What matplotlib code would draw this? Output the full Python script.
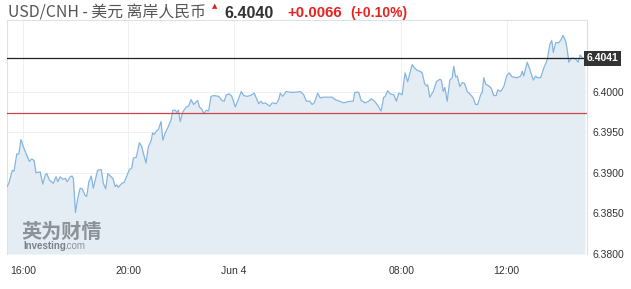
import matplotlib
matplotlib.use("Agg")
import matplotlib.pyplot as plt

# chart time in hours, 0 = 16:00 (the night gap is compressed like in the source)
hours = [-0.60, -0.53, -0.41, -0.34, -0.24, -0.16, -0.08, 0.01, 0.14, 0.24,
         0.33, 0.42, 0.49, 0.65, 0.75, 0.84, 0.90, 1.00, 1.15, 1.25,
         1.32, 1.41, 1.51, 1.60, 1.68, 1.79, 1.86, 1.91, 1.99, 2.08,
         2.17, 2.25, 2.36, 2.42, 2.50, 2.59, 2.67, 2.83, 2.97, 3.05,
         3.14, 3.22, 3.41, 3.50, 3.56, 3.62, 3.75, 3.84, 3.94, 4.04,
         4.13, 4.19, 4.30, 4.42, 4.51, 4.57, 4.67, 4.76, 4.87, 4.92,
         4.98, 5.08, 5.14, 5.24, 5.31, 5.40, 5.52, 5.62, 5.69, 5.78,
         5.84, 5.90, 5.97, 6.07, 6.20, 6.29, 6.38, 6.48, 6.63, 6.70,
         6.79, 6.88, 6.96, 7.05, 7.14, 7.24, 7.43, 7.56, 7.64, 7.72,
         7.84, 7.93, 8.06, 8.15, 8.29, 8.38, 8.51, 8.63, 8.78, 8.86,
         8.95, 9.04, 9.11, 9.20, 9.37, 9.46, 9.62, 9.71, 9.77, 9.86,
         10.00, 10.15, 10.34, 10.53, 10.66, 10.76, 10.89, 10.98, 11.06, 11.19,
         11.29, 11.40, 11.74, 11.86, 12.18, 12.43, 12.54, 12.60, 12.75, 12.84,
         13.00, 13.13, 13.23, 13.35, 13.45, 13.60, 13.70, 13.76, 13.85, 13.95,
         14.08, 14.18, 14.27, 14.40, 14.51, 14.61, 14.78, 14.87, 14.97, 15.07,
         15.16, 15.25, 15.32, 15.37, 15.45, 15.58, 15.70, 15.83, 15.89, 15.96,
         16.02, 16.11, 16.21, 16.30, 16.36, 16.43, 16.49, 16.59, 16.68, 16.77,
         16.87, 17.00, 17.10, 17.19, 17.27, 17.38, 17.44, 17.50, 17.57, 17.69,
         17.78, 17.88, 17.97, 18.03, 18.14, 18.26, 18.37, 18.46, 18.58, 18.77,
         18.90, 18.96, 19.02, 19.15, 19.25, 19.38, 19.47, 19.53, 19.66, 19.78,
         19.91, 20.01, 20.08, 20.14, 20.23, 20.35, 20.44, 20.51, 20.61, 20.67,
         20.73, 20.83, 20.92, 20.99, 21.08, 21.16, 21.25, 21.34]

price = [6.3883, 6.3888, 6.3903, 6.3902, 6.3923, 6.3923, 6.3941, 6.3932, 6.3922, 6.3914,
         6.3917, 6.3915, 6.3900, 6.3901, 6.3886, 6.3897, 6.3899, 6.3891, 6.3887, 6.3895,
         6.3889, 6.3895, 6.3892, 6.3893, 6.3889, 6.3895, 6.3896, 6.3893, 6.3851, 6.3869,
         6.3881, 6.3880, 6.3872, 6.3871, 6.3889, 6.3896, 6.3881, 6.3903, 6.3904, 6.3887,
         6.3880, 6.3899, 6.3893, 6.3883, 6.3885, 6.3882, 6.3887, 6.3888, 6.3896, 6.3904,
         6.3906, 6.3918, 6.3919, 6.3937, 6.3932, 6.3924, 6.3912, 6.3932, 6.3940, 6.3949,
         6.3947, 6.3952, 6.3953, 6.3963, 6.3940, 6.3949, 6.3957, 6.3965, 6.3977, 6.3977,
         6.3974, 6.3977, 6.3963, 6.3975, 6.3981, 6.3982, 6.3990, 6.3984, 6.3989, 6.3981,
         6.3978, 6.3973, 6.3977, 6.3976, 6.3994, 6.3995, 6.3994, 6.3989, 6.3988, 6.3996,
         6.3997, 6.3994, 6.3981, 6.3988, 6.4000, 6.3995, 6.3994, 6.3995, 6.3998, 6.3992,
         6.3985, 6.3988, 6.3985, 6.3986, 6.3982, 6.3986, 6.3985, 6.3990, 6.3998, 6.3994,
         6.4000, 6.3999, 6.3999, 6.4000, 6.3996, 6.3988, 6.3988, 6.3984, 6.3986, 6.3998,
         6.3992, 6.3993, 6.3993, 6.3990, 6.3986, 6.3988, 6.3988, 6.3999, 6.3999, 6.3989,
         6.3986, 6.3988, 6.3991, 6.3988, 6.3984, 6.3976, 6.3993, 6.3994, 6.4001, 6.3997,
         6.3996, 6.3988, 6.3998, 6.3996, 6.4023, 6.4012, 6.4033, 6.4029, 6.4026, 6.4025,
         6.4023, 6.4010, 6.4007, 6.4008, 6.3993, 6.4000, 6.4012, 6.4015, 6.4014, 6.4000,
         6.4005, 6.3988, 6.4014, 6.4017, 6.4031, 6.4018, 6.4019, 6.4006, 6.4011, 6.4010,
         6.4000, 6.3996, 6.3992, 6.3984, 6.3984, 6.3996, 6.3999, 6.4017, 6.4009, 6.4007,
         6.4004, 6.3995, 6.3995, 6.4002, 6.4000, 6.4006, 6.4019, 6.4023, 6.4018, 6.4017,
         6.4019, 6.4025, 6.4019, 6.4036, 6.4027, 6.4014, 6.4019, 6.4017, 6.4017, 6.4029,
         6.4039, 6.4058, 6.4063, 6.4048, 6.4060, 6.4060, 6.4064, 6.4069, 6.4062, 6.4051,
         6.4036, 6.4041, 6.4041, 6.4040, 6.4036, 6.4045, 6.4041, 6.4041]

tick_pos = [0, 4, 8, 14.37, 18.37]
tick_labels = ["16:00", "20:00", "Jun 4", "08:00", "12:00"]
y_ticks = [6.3800, 6.3850, 6.3900, 6.3950, 6.4000]

last_price = 6.4041
prev_close = 6.3974

fig = plt.figure(figsize=(6.31, 2.89), dpi=100)
ax = fig.add_axes([7 / 631, 1 - 254 / 289, 580 / 631, 234 / 289])

ax.set_xlim(-0.61, 21.42)
ax.set_ylim(6.3800, 6.4088)

for t in tick_pos:
    ax.axvline(t, color="#eef1f4", lw=0.7, zorder=0)
for t in y_ticks:
    ax.axhline(t, color="#eef1f4", lw=0.7, zorder=0)

ax.fill_between(hours, price, 6.3800, color="#e4edf4", lw=0, zorder=1)
ax.plot(hours, price, color="#86b5e0", lw=0.9, zorder=3)

ax.axhline(last_price, color="#222222", lw=0.9, zorder=4)
ax.axhline(prev_close, color="#c8464a", lw=0.9, zorder=4)

ax.set_xticks(tick_pos)
ax.set_xticklabels(tick_labels)
ax.set_yticks(y_ticks)
ax.set_yticklabels(["%.4f" % v for v in y_ticks])
ax.yaxis.tick_right()
ax.tick_params(axis="both", length=0, labelsize=7.5, labelcolor="#333333",
               labelfontfamily="Liberation Sans")
ax.tick_params(axis="x", pad=9)
ax.tick_params(axis="y", pad=4)

for side in ["left", "top", "right"]:
    ax.spines[side].set_color("#dde2e8")
    ax.spines[side].set_linewidth(0.8)
ax.spines["bottom"].set_visible(False)

ax.text(1.0, last_price, "6.4041", transform=ax.get_yaxis_transform(),
        ha="left", va="center", color="white", fontsize=7.5, fontweight="bold",
        family="Liberation Sans", zorder=6,
        bbox=dict(boxstyle="square,pad=0.25", fc="#333333", ec="none"))

# watermark
fig.text(21 / 631, 1 - 231 / 289, "英为财情", fontsize=14.5, fontweight="bold",
         color="#7d8288", alpha=0.85, family="Noto Sans CJK SC",
         ha="left", va="center", zorder=5)
fig.text(23 / 631, 1 - 246 / 289, "Investing", fontsize=7, fontweight="bold",
         color="#7d8288", family="Liberation Sans", ha="left", va="center")
fig.text(64 / 631, 1 - 246 / 289, ".com", fontsize=7, color="#8d9298",
         family="Liberation Sans", ha="left", va="center")

# header
fig.text(8 / 631, 1 - 13 / 289, "USD/CNH - 美元 离岸人民币", fontsize=11.4,
         color="#555555", family=["Noto Sans CJK SC", "DejaVu Sans"],
         ha="left", va="center")
fig.text(215 / 631, 1 - 6 / 289, "▲", fontsize=5, color="#e0201e",
         ha="center", va="center", family="DejaVu Sans")
fig.text(224 / 631, 1 - 13 / 289, "6.4040", fontsize=11.6, fontweight="bold",
         color="#333333", family="Liberation Sans", ha="left", va="center")
fig.text(287 / 631, 1 - 13 / 289, "+0.0066", fontsize=10.8, fontweight="bold",
         color="#e8231f", family="Liberation Sans", ha="left", va="center")
fig.text(350 / 631, 1 - 13 / 289, "(+0.10%)", fontsize=10, fontweight="bold",
         color="#e8231f", family="Liberation Sans", ha="left", va="center")

fig.savefig("out.png", dpi=100)
